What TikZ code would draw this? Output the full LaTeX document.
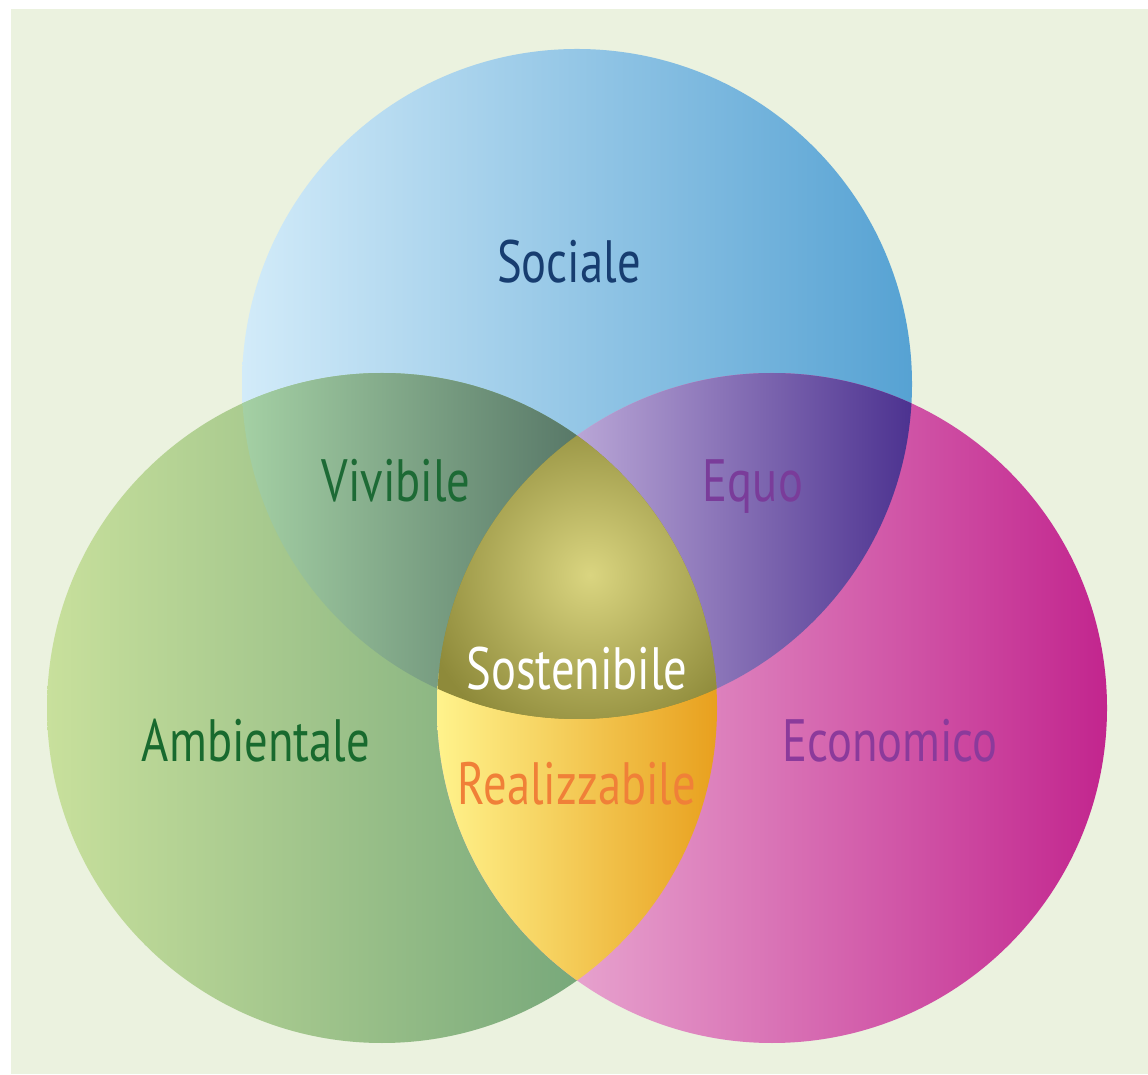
\documentclass[tikz,border=0pt]{standalone}
\usepackage{fontspec}
\setmainfont{PT Sans}[FakeStretch=0.78]
\definecolor{backgr}{HTML}{EBF2DF}
\definecolor{socL}{HTML}{D2EBF9}
\definecolor{socR}{HTML}{56A2D3}
\definecolor{ambL}{HTML}{C8E09C}
\definecolor{ambR}{HTML}{639A72}
\definecolor{ecoL}{HTML}{F0C2DE}
\definecolor{ecoR}{HTML}{C2258E}
\definecolor{vivL}{HTML}{A4D0A4}
\definecolor{vivR}{HTML}{587868}
\definecolor{equL}{HTML}{B9A6D6}
\definecolor{equR}{HTML}{4C3290}
\definecolor{reaL}{HTML}{FFF38C}
\definecolor{reaR}{HTML}{E8A01E}
\definecolor{sosIn}{HTML}{DAD580}
\definecolor{sosOut}{HTML}{8E8A3A}
\definecolor{socT}{HTML}{173D70}
\definecolor{vivT}{HTML}{1D6A35}
\definecolor{equT}{HTML}{7A3C9A}
\definecolor{ambT}{HTML}{186A2E}
\definecolor{ecoT}{HTML}{8B3A9B}
\definecolor{reaT}{HTML}{F08038}
\tikzset{lbl/.style={anchor=base, inner sep=0pt, font=\fontsize{34}{40}\selectfont}}
\begin{document}
\begin{tikzpicture}[x=0.2mm, y=0.2mm]
	\useasboundingbox (0, 0) rectangle (1148, 1074);
	\fill[backgr] (11, 0) rectangle (1148, 1065);
	\coordinate (S) at (577, 690);
	\coordinate (A) at (382, 366);
	\coordinate (E) at (772, 366);
	\shade[left color=socL, right color=socR] (S) circle (335);
	\shade[left color=ambL, right color=ambR] (A) circle (335);
	\shade[left color=ecoL, right color=ecoR] (E) circle (335);
	\begin{scope}
	\clip (S) circle (335);
	\clip (A) circle (335);
	\shade[left color=vivL, right color=vivR] (242, 300) rectangle (578, 700);
	\end{scope}
	\begin{scope}
	\clip (S) circle (335);
	\clip (E) circle (335);
	\shade[left color=equL, right color=equR] (576, 300) rectangle (912, 700);
	\end{scope}
	\begin{scope}
	\clip (A) circle (335);
	\clip (E) circle (335);
	\shade[left color=reaL, right color=reaR] (437, 60) rectangle (717, 400);
	\end{scope}
	\begin{scope}
	\clip (S) circle (335);
	\clip (A) circle (335);
	\clip (E) circle (335);
	\fill[sosOut] (430, 350) rectangle (720, 650);
	\shade[inner color=sosIn, outer color=sosOut] (590, 499) circle (175);
	\end{scope}
	\node[lbl, text=socT] (sociale) at (569, 791) {Sociale};
	\node[lbl, text=vivT] (vivibile) at (396, 572) {Vivibile};
	\node[lbl, text=equT] (equo) at (753, 572) {Equo};
	\node[lbl, text=ambT] (ambientale) at (256, 312) {Ambientale};
	\node[lbl, text=ecoT] (economico) at (890, 312) {Economico};
	\node[lbl, text=reaT] (realizzabile) at (577, 269) {Realizzabile};
	\node[lbl, text=white] (sostenibile) at (577, 384) {Sostenibile};
\end{tikzpicture}
\end{document}
